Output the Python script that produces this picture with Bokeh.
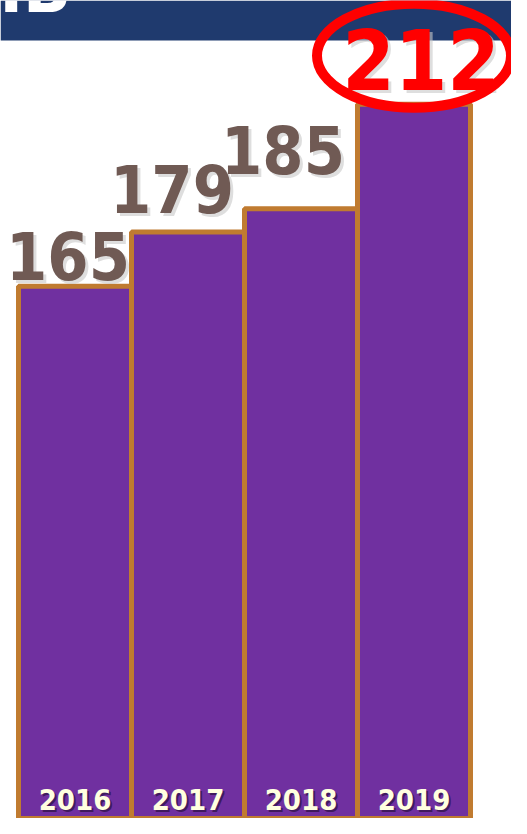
from bokeh.plotting import figure
from bokeh.models import Range1d, BoxAnnotation, ColumnDataSource
from bokeh.core.properties import value
from bokeh.embed import file_html
from bokeh.resources import INLINE

# ---- data ----
years = ["2016", "2017", "2018", "2019"]
counts = [165, 179, 185, 212]
header_text = "IB"

# ---- layout constants ----
W, H = 511, 818
px_per_unit = 3.874
x_lo = -0.1593
x_hi = x_lo + W / 113.0
y_hi = 238.75
y_lo = y_hi - H / px_per_unit
K = 0.39  # empirical baseline compensation (fraction of font size)

# small screen-pixel nudges for the grey value labels (style only)
label_dx = [-7, -16, -18]
label_dy = [-5, -18, -33]

FONT = value("'DejaVu Sans Condensed', 'DejaVu Sans'")
PURPLE = "#7030A0"
EDGE = "#C07B30"
NAVY = "#1F3A6E"
GREY_TXT = "#705A54"

p = figure(width=W, height=H, output_backend="svg", toolbar_location=None,
           x_range=Range1d(x_lo, x_hi), y_range=Range1d(y_lo, y_hi),
           min_border=0, background_fill_color="white", border_fill_color="white")
p.axis.visible = False
p.grid.visible = False
p.outline_line_color = None

# header band
header_bottom = y_hi - 40 / px_per_unit
p.add_layout(BoxAnnotation(bottom=header_bottom, fill_color=NAVY, fill_alpha=1.0,
                           line_color=None, level="underlay"))
p.text(x=[x_lo - 1 / 113.0], y=[y_hi - 15 / px_per_unit], text=[header_text],
       y_offset=-K * 70,
       text_font=FONT, text_font_style="bold", text_font_size="70px",
       text_color="white", text_align="left", text_baseline="alphabetic")

xs = [i + 0.5 for i in range(len(years))]

# bars
p.vbar(x=xs, top=counts, bottom=0, width=1.0, fill_color=PURPLE,
       line_color=EDGE, line_width=5)

# value labels (first three grey, last one highlighted red)
n = len(counts) - 1
gsrc = ColumnDataSource(dict(
    x=xs[:n], y=counts[:n], t=[str(c) for c in counts[:n]],
    dx=label_dx, dy=[d - K * 66 for d in label_dy],
    sdx=[d + 3 for d in label_dx], sdy=[d - K * 66 + 3 for d in label_dy]))
p.text(x="x", y="y", text="t", x_offset="sdx", y_offset="sdy", source=gsrc,
       text_font=FONT, text_font_style="bold", text_font_size="66px",
       text_color="#C8C8C8", text_alpha=0.6, text_align="center",
       text_baseline="alphabetic")
p.text(x="x", y="y", text="t", x_offset="dx", y_offset="dy", source=gsrc,
       text_font=FONT, text_font_style="bold", text_font_size="66px",
       text_color=GREY_TXT, text_align="center", text_baseline="alphabetic")

hx = [xs[-1]]
hy = [counts[-1]]
ht = [str(counts[-1])]
h_dx, h_dy = 7, -12.7 - K * 84
p.text(x=hx, y=hy, text=ht, x_offset=h_dx + 3, y_offset=h_dy + 3,
       text_font=FONT, text_font_style="bold", text_font_size="84px",
       text_color="#C8C8C8", text_alpha=0.6, text_align="center",
       text_baseline="alphabetic")
p.text(x=hx, y=hy, text=ht, x_offset=h_dx, y_offset=h_dy,
       text_font=FONT, text_font_style="bold", text_font_size="84px",
       text_color="#FF0000", text_align="center", text_baseline="alphabetic")
p.ellipse(x=hx, y=[counts[-1] + 12.5], width=194, height=104,
          width_units="screen", height_units="screen",
          fill_color=None, line_color="#FF0000", line_width=10)

# year labels inside bars
ly = [y_lo + 8 / px_per_unit] * len(years)
y_dy = -K * 29
p.text(x=xs, y=ly, text=years, x_offset=2, y_offset=y_dy + 2,
       text_font=FONT, text_font_style="bold", text_font_size="29px",
       text_color="#2A1040", text_alpha=0.7, text_align="center",
       text_baseline="alphabetic")
p.text(x=xs, y=ly, text=years, y_offset=y_dy,
       text_font=FONT, text_font_style="bold", text_font_size="29px",
       text_color="#FFFFE0", text_align="center", text_baseline="alphabetic")

open("out.html", "w").write(file_html(p, INLINE))
